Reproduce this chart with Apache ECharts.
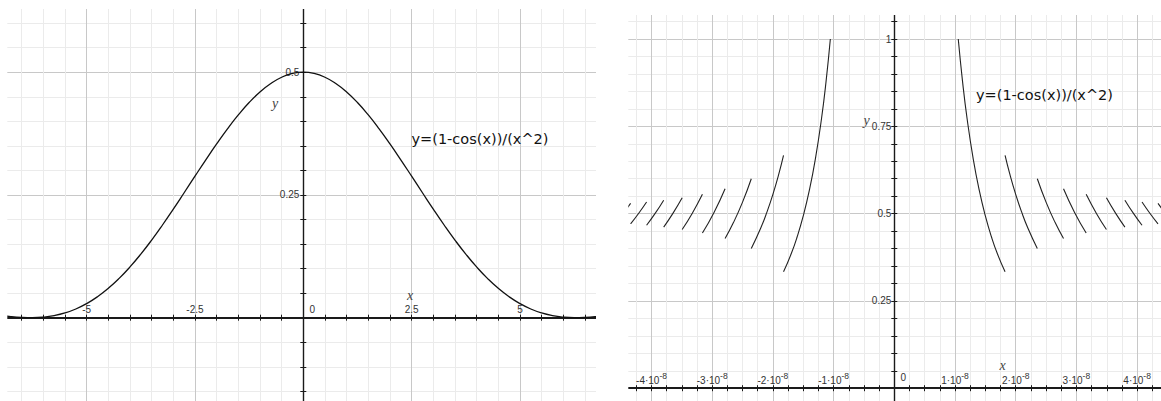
<!DOCTYPE html>
<html><head><meta charset="utf-8">
<script src="https://cdn.jsdelivr.net/npm/echarts@6/dist/echarts.min.js"></script>
<style>html,body{margin:0;padding:0;background:#fff}#c{width:1161px;height:401px}</style>
</head><body><div id="c"></div><script>
// Left panel: y=(1-cos(x))/(x^2)
const leftX = [-7,-6.75,-6.5,-6.25,-6,-5.75,-5.5,-5.25,-5,-4.75,-4.5,-4.25,-4,-3.75,-3.5,-3.25,-3,-2.75,-2.5,-2.25,-2,-1.75,-1.5,-1.25,-1,-0.75,-0.5,-0.25,0,0.25,0.5,0.75,1,1.25,1.5,1.75,2,2.25,2.5,2.75,3,3.25,3.5,3.75,4,4.25,4.5,4.75,5,5.25,5.5,5.75,6,6.25,6.5,6.75,7];
const leftY = [0.0050,0.0023,0.0006,0.0000,0.0011,0.0042,0.0096,0.0177,0.0287,0.0427,0.0598,0.0801,0.1034,0.1295,0.1581,0.1888,0.2211,0.2545,0.2882,0.3216,0.3540,0.3847,0.4130,0.4382,0.4597,0.4770,0.4897,0.4974,0.5000,0.4974,0.4897,0.4770,0.4597,0.4382,0.4130,0.3847,0.3540,0.3216,0.2882,0.2545,0.2211,0.1888,0.1581,0.1295,0.1034,0.0801,0.0598,0.0427,0.0287,0.0177,0.0096,0.0042,0.0011,0.0000,0.0006,0.0023,0.0050];
// Right panel: x in units of 1e-8; null marks a break between drawn pieces
const rightU = [
 -4.5928,-4.47,-4.3444, null,
 -4.3444,-4.21,-4.0809, null,
 -4.0809,-3.94,-3.7991, null,
 -3.7991,-3.65,-3.4946, null,
 -3.4946,-3.33,-3.161, null,
 -3.161,-2.97,-2.7878, null,
 -2.7878,-2.65,-2.5,-2.3561, null,
 -2.3561,-2.2,-2.1,-2.0,-1.9,-1.825, null,
 -1.825,-1.7,-1.6,-1.5,-1.4,-1.3,-1.2,-1.125,-1.0537, null,
 -1.0537,1.0537, null,
 1.0537,1.125,1.2,1.3,1.4,1.5,1.6,1.7,1.825, null,
 1.825,1.9,2.0,2.1,2.2,2.3561, null,
 2.3561,2.5,2.65,2.7878, null,
 2.7878,2.97,3.161, null,
 3.161,3.33,3.4946, null,
 3.4946,3.65,3.7991, null,
 3.7991,3.94,4.0809, null,
 4.0809,4.21,4.3444, null,
 4.3444,4.47,4.5928
];
const rightY = [
 0.4737,0.5001,0.5294, null,
 0.4706,0.5011,0.5333, null,
 0.4667,0.5006,0.5385, null,
 0.4615,0.5000,0.5455, null,
 0.4545,0.5006,0.5556, null,
 0.4444,0.5034,0.5714, null,
 0.4286,0.4743,0.5329,0.6000, null,
 0.4000,0.4588,0.5035,0.5551,0.6151,0.6667, null,
 0.3333,0.3842,0.4337,0.4934,0.5664,0.6569,0.7710,0.8772,1.0000, null,
 0,0, null,
 1.0000,0.8772,0.7710,0.6569,0.5664,0.4934,0.4337,0.3842,0.3333, null,
 0.6667,0.6151,0.5551,0.5035,0.4588,0.4000, null,
 0.6000,0.5329,0.4743,0.4286, null,
 0.5714,0.5034,0.4444, null,
 0.5556,0.5006,0.4545, null,
 0.5455,0.5000,0.4615, null,
 0.5385,0.5006,0.4667, null,
 0.5333,0.5011,0.4706, null,
 0.5294,0.5001,0.4737
];
const leftXTicks = [-5,-2.5,0,2.5,5];
const leftYTicks = [0.25,0.5];
const rightXTicks = [-4,-3,-2,-1,0,1,2,3,4];
const rightYTicks = [0.25,0.5,0.75,1];
const formula = 'y=(1-cos(x))/(x^2)';

const near = (v, list) => list.some(t => Math.abs(t - v) < 1e-9);
const MINOR = '#ebebeb', MAJOR = '#c8c8c8', AX = '#1a1a1a', LBL = '#333';
const labelFont = 'Liberation Sans, Arial, sans-serif';

// grid geometry (px) and where the zero lines sit
const G0 = {left: 0, top: -1.45, width: 606.6, height: 417.35};
const G1 = {left: 621.15, top: 4.1, width: 546.3, height: 401.6};
const zeroX0 = 303.3, zeroY0 = 317.7, zeroX1 = 894.3, zeroY1 = 388.2;
const offX0 = zeroY0 - (G0.top + G0.height);   // negative: move bottom axis up
const offY0 = G0.left - zeroX0;                 // negative: move left axis right
const offX1 = zeroY1 - (G1.top + G1.height);
const offY1 = G1.left - zeroX1;

function mainX(grid, min, max, interval, colors, fmt, rich, margin, offset, lw) {
  return {gridIndex: grid, type: 'value', position: 'bottom', offset, min, max, interval,
    splitLine: {show: true, lineStyle: {color: colors, width: 1}},
    axisLine: {show: true, onZero: false, lineStyle: {color: AX, width: lw}},
    axisTick: {show: true, inside: false, length: 3, lineStyle: {color: AX, width: 1}},
    axisLabel: {show: true, inside: true, margin, fontSize: 10, color: LBL, fontFamily: labelFont,
      formatter: fmt, rich}};
}
function innerX(grid, min, max, interval, offset) {
  return {gridIndex: grid, type: 'value', position: 'bottom', offset, min, max, interval,
    splitLine: {show: false},
    axisLine: {show: true, onZero: false, lineStyle: {color: AX, opacity: 0}},
    axisTick: {show: true, inside: true, length: 3, lineStyle: {color: AX, width: 1}},
    axisLabel: {show: false}};
}
function mainY(grid, min, max, interval, colors, fmt, offset, margin) {
  return {gridIndex: grid, type: 'value', position: 'left', offset, min, max, interval,
    splitLine: {show: true, lineStyle: {color: colors, width: 1}},
    axisLine: {show: true, onZero: false, lineStyle: {color: AX, width: 1.4}},
    axisTick: {show: true, inside: false, length: 3, lineStyle: {color: AX, width: 1}},
    axisLabel: {show: true, inside: false, margin, fontSize: 10, color: LBL, fontFamily: labelFont, formatter: fmt}};
}
function innerY(grid, min, max, interval, offset) {
  return {gridIndex: grid, type: 'value', position: 'left', offset, min, max, interval,
    splitLine: {show: false},
    axisLine: {show: true, onZero: false, lineStyle: {color: AX, opacity: 0}},
    axisTick: {show: true, inside: true, length: 3, lineStyle: {color: AX, width: 1}},
    axisLabel: {show: false}};
}

const leftXFmt = v => !near(v, leftXTicks) ? '' : (Math.abs(v) < 1e-9 ? '{z|0}' : String(v));
const rightXFmt = v => !near(v, rightXTicks) ? '' : (Math.abs(v) < 1e-9 ? '{z|0}' : '{a|' + Math.round(v) + '·10}{s|-8}');
const leftYFmt = v => near(v, leftYTicks) ? String(+v.toFixed(2)) : '';
const rightYFmt = v => near(v, rightYTicks) ? String(+v.toFixed(2)) : '';

const leftData = leftX.map((x, i) => [x, leftY[i]]);
const rightData = rightU.map((u, i) => u === null ? ['-', '-'] : [u, rightY[i]]);

const chart = echarts.init(document.getElementById('c'), null, {renderer: 'svg'});
chart.setOption({
  animation: false,
  backgroundColor: '#fff',
  textStyle: {fontFamily: labelFont},
  grid: [
    Object.assign({containLabel: false, outerBoundsMode: 'none'}, G0),
    Object.assign({containLabel: false, outerBoundsMode: 'none'}, G1)
  ],
  xAxis: [
    mainX(0, -7, 7, 0.5, [MINOR, MINOR, MINOR, MINOR, MAJOR], leftXFmt,
      {z: {padding: [0, 0, 0, 18], fontSize: 10, color: LBL, fontFamily: labelFont}}, 3, offX0, 1.8),
    innerX(0, -7, 7, 0.5, offX0),
    mainX(1, -4.5, 4.5, 0.25, [MINOR, MINOR, MAJOR, MINOR], rightXFmt,
      {a: {fontSize: 10, lineHeight: 18, color: LBL, fontFamily: labelFont},
       s: {fontSize: 8.5, lineHeight: 9, verticalAlign: 'top', color: LBL, fontFamily: labelFont},
       z: {fontSize: 10, lineHeight: 24, padding: [0, 0, 0, 18], color: LBL, fontFamily: labelFont}}, -1, offX1, 1.8),
    innerX(1, -4.5, 4.5, 0.25, offX1)
  ],
  yAxis: [
    mainY(0, -0.2, 0.65, 0.05, [MINOR, MINOR, MINOR, MINOR, MAJOR], leftYFmt, offY0, 4),
    innerY(0, -0.2, 0.65, 0.05, offY0),
    mainY(1, -0.05, 1.1, 0.05, [MINOR, MAJOR, MINOR, MINOR, MINOR], rightYFmt, offY1, 3),
    innerY(1, -0.05, 1.1, 0.05, offY1)
  ],
  series: [
    {type: 'line', xAxisIndex: 0, yAxisIndex: 0, data: leftData, showSymbol: false, smooth: true,
     lineStyle: {color: '#111', width: 1.3}, z: 5, silent: true},
    {type: 'line', xAxisIndex: 2, yAxisIndex: 2, data: rightData, showSymbol: false, smooth: true,
     connectNulls: false, lineStyle: {color: '#222', width: 1.1}, z: 5, silent: true}
  ],
  graphic: [
    {type: 'rect', silent: true, z: 100, shape: {x: 0, y: 0, width: 7.3, height: 401}, style: {fill: '#fff'}},
    {type: 'rect', silent: true, z: 100, shape: {x: 0, y: 0, width: 610, height: 9}, style: {fill: '#fff'}},
    {type: 'rect', silent: true, z: 100, shape: {x: 596, y: 0, width: 32.3, height: 401}, style: {fill: '#fff'}},
    {type: 'rect', silent: true, z: 100, shape: {x: 610, y: 0, width: 551, height: 15}, style: {fill: '#fff'}},
    {type: 'text', silent: true, z: 101, x: 411.5, y: 139,
     style: {text: formula, fill: '#111', font: '14.5px "DejaVu Sans"', align: 'left', verticalAlign: 'middle', textAlign: 'left', textVerticalAlign: 'middle'}},
    {type: 'text', silent: true, z: 101, x: 976, y: 94.5,
     style: {text: formula, fill: '#111', font: '14.5px "DejaVu Sans"', align: 'left', verticalAlign: 'middle', textAlign: 'left', textVerticalAlign: 'middle'}},
    {type: 'text', silent: true, z: 101, x: 275, y: 103,
     style: {text: 'y', fill: '#444', font: 'italic 14px "Liberation Serif"', align: 'center', verticalAlign: 'middle', textAlign: 'center', textVerticalAlign: 'middle'}},
    {type: 'text', silent: true, z: 101, x: 410, y: 295,
     style: {text: 'x', fill: '#444', font: 'italic 14px "Liberation Serif"', align: 'center', verticalAlign: 'middle', textAlign: 'center', textVerticalAlign: 'middle'}},
    {type: 'text', silent: true, z: 101, x: 866.7, y: 120.5,
     style: {text: 'y', fill: '#444', font: 'italic 14px "Liberation Serif"', align: 'center', verticalAlign: 'middle', textAlign: 'center', textVerticalAlign: 'middle'}},
    {type: 'text', silent: true, z: 101, x: 1002.7, y: 365,
     style: {text: 'x', fill: '#444', font: 'italic 14px "Liberation Serif"', align: 'center', verticalAlign: 'middle', textAlign: 'center', textVerticalAlign: 'middle'}}
  ]
});
</script></body></html>
